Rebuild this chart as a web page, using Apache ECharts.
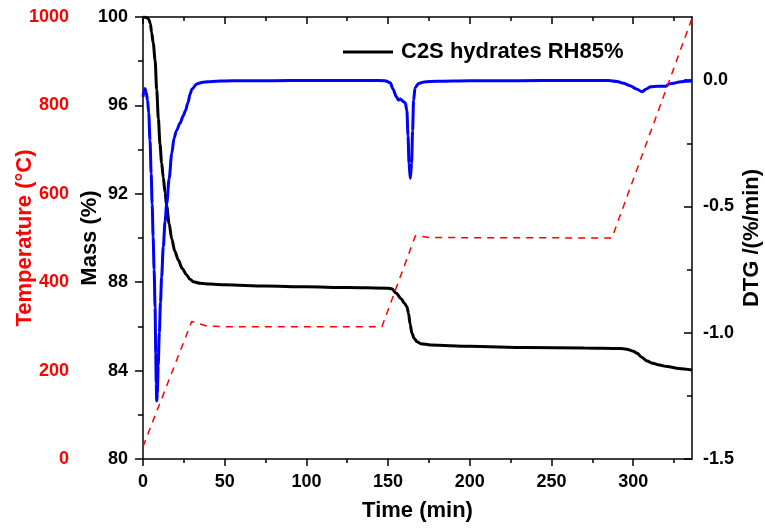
<!DOCTYPE html>
<html>
<head>
<meta charset="utf-8">
<script src="https://cdn.jsdelivr.net/npm/echarts@6/dist/echarts.min.js"></script>
<style>html,body{margin:0;padding:0;background:#fff;}#c{width:765px;height:528px;}</style>
</head>
<body>
<div id="c"></div>
<script>
// ---- tick values ----
const timeTicks = [0, 50, 100, 150, 200, 250, 300];
const timeMinorTicks = [25, 75, 125, 175, 225, 275, 325];
const massTicks = [80, 84, 88, 92, 96, 100];
const massMinorTicks = [82, 86, 90, 94, 98];
const tempTicks = [0, 200, 400, 600, 800, 1000];
const dtgTicks = [-1.5, -1.0, -0.5, 0.0];
const dtgMinorTicks = [-1.25, -0.75, -0.25];

// ---- series data ----
const massTime = [0, 2, 3.5, 4.5, 5.3, 6.3, 7.4, 8.4, 9.4, 10.4, 11.4, 12.4, 13.5, 14.5, 16, 17.6, 19.5, 21.6, 24, 26.7, 28.5, 30.8, 35, 41, 50, 75, 100, 125, 150, 152.3, 155, 158, 160, 161.5, 162.5, 163.5, 164.6, 166, 167.7, 170, 176, 200, 235, 270, 292, 296, 300, 302.5, 305, 308.6, 312, 316, 320.8, 328, 336];
const massValues = [100, 99.98, 99.9, 99.7, 99.3, 98.8, 98.05, 96.7, 95.4, 94.25, 93.4, 92.75, 92.05, 91.45, 90.65, 89.95, 89.4, 89.0, 88.62, 88.33, 88.15, 88.02, 87.95, 87.92, 87.88, 87.83, 87.79, 87.76, 87.73, 87.7, 87.5, 87.25, 87.05, 86.89, 86.6, 86.1, 85.69, 85.45, 85.31, 85.22, 85.16, 85.1, 85.04, 85.02, 85.0, 84.97, 84.88, 84.78, 84.62, 84.43, 84.33, 84.25, 84.18, 84.1, 84.03];

const dtgTime = [0, 0.6, 1.2, 2, 2.8, 3.5, 4.3, 5, 5.6, 6.2, 6.8, 7.4, 7.8, 8.1, 8.4, 8.8, 9.3, 10, 10.7, 11.4, 12.4, 13.5, 14.5, 16, 17.6, 19, 20.5, 22.7, 24.7, 26, 27.5, 28.8, 30, 32.9, 36, 40, 45, 50, 60, 80, 100, 120, 140, 148, 151.3, 153, 155, 156.4, 157.5, 158.5, 159.5, 160.5, 161.5, 162.2, 162.8, 163.6, 164.4, 165, 165.6, 166.5, 168.7, 172, 180, 200, 230, 260, 285, 290.2, 294, 298, 302, 305.5, 308, 310.7, 315, 319.9, 322, 325, 329, 332, 336];
const dtgValues = [-0.066, -0.045, -0.033, -0.05, -0.08, -0.13, -0.24, -0.37, -0.49, -0.62, -0.75, -0.9, -1.08, -1.2, -1.27, -1.24, -1.13, -1.0, -0.88, -0.78, -0.66, -0.56, -0.49, -0.39, -0.29, -0.23, -0.2, -0.17, -0.14, -0.12, -0.09, -0.055, -0.035, -0.015, -0.009, -0.006, -0.004, -0.003, -0.002, -0.002, -0.001, -0.001, -0.001, -0.002, -0.01, -0.035, -0.065, -0.079, -0.075, -0.08, -0.086, -0.09, -0.12, -0.22, -0.33, -0.388, -0.33, -0.2, -0.08, -0.03, -0.013, -0.007, -0.004, -0.002, -0.002, -0.001, -0.001, -0.005, -0.012, -0.022, -0.035, -0.046, -0.035, -0.026, -0.024, -0.024, -0.015, -0.012, -0.006, -0.004, -0.003];

const tempTime = [0, 29.8, 39, 50, 146.2, 166.7, 176, 287, 336];
const tempValues = [28, 311, 301, 299, 299, 505, 501, 500, 997];

const legendName = 'C2S hydrates RH85%';

// ---- build ----
const zip = (xs, ys) => xs.map((x, i) => [x, ys[i]]);
const FONT = '"Liberation Sans", Arial, Helvetica, sans-serif';
const xMin = 0, xMax = 336;
const lineBlack = { show: true, onZero: false, lineStyle: { color: '#000', width: 1.5 } };
const noLine = { show: false, onZero: false };
const tickStyle = { color: '#000', width: 1.5 };

function minorX(pos, inside, len, vals, showLine) {
  return {
    type: 'value', position: pos, min: xMin, max: xMax,
    axisLine: showLine ? lineBlack : noLine,
    axisTick: { show: true, inside: inside, length: len, customValues: vals, lineStyle: tickStyle },
    axisLabel: { show: false }, splitLine: { show: false }
  };
}

const chart = echarts.init(document.getElementById('c'), null, { renderer: 'canvas' });
const option = {
  animation: false,
  backgroundColor: '#ffffff',
  textStyle: { fontFamily: FONT },
  grid: { left: 143, right: 73, top: 17, bottom: 69, containLabel: false, outerBoundsMode: 'none' },
  legend: {
    data: [{ name: legendName, icon: 'rect' }],
    left: 343, top: 41, padding: 0,
    itemWidth: 50, itemHeight: 3,
    textStyle: { fontSize: 22, fontWeight: 'bold', color: '#000', fontFamily: FONT, padding: [0, 0, 0, 3] }
  },
  xAxis: [
    {
      type: 'value', position: 'bottom', min: xMin, max: xMax, interval: 50,
      axisLine: lineBlack,
      axisTick: { show: true, inside: false, length: 7, customValues: timeTicks, lineStyle: tickStyle },
      axisLabel: { customValues: timeTicks, fontSize: 18, fontWeight: 'bold', color: '#000', margin: 14, fontFamily: FONT },
      splitLine: { show: false },
      name: 'Time (min)', nameLocation: 'middle', nameGap: 41, nameMoveOverlap: false,
      nameTextStyle: { fontSize: 22, fontWeight: 'bold', color: '#000', fontFamily: FONT }
    },
    minorX('bottom', false, 4, timeMinorTicks, false),
    minorX('top', true, 7, timeTicks, true),
    minorX('top', true, 4, timeMinorTicks, false)
  ],
  yAxis: [
    {
      type: 'value', position: 'left', min: 80, max: 100, interval: 4,
      axisLine: lineBlack,
      axisTick: { show: true, inside: false, length: 8, customValues: massTicks, lineStyle: tickStyle },
      axisLabel: { customValues: massTicks, fontSize: 18, fontWeight: 'bold', color: '#000', margin: 15, fontFamily: FONT },
      splitLine: { show: false },
      name: 'Mass (%)', nameLocation: 'middle', nameGap: 42, nameRotate: 90, nameMoveOverlap: false,
      nameTextStyle: { fontSize: 22, fontWeight: 'bold', color: '#000', fontFamily: FONT }
    },
    {
      type: 'value', position: 'left', min: 80, max: 100,
      axisLine: noLine,
      axisTick: { show: true, inside: false, length: 5, customValues: massMinorTicks, lineStyle: tickStyle },
      axisLabel: { show: false }, splitLine: { show: false }
    },
    {
      type: 'value', position: 'right', min: -1.5, max: 0.25, interval: 0.5,
      axisLine: lineBlack,
      axisTick: { show: true, inside: true, length: 8, customValues: dtgTicks, lineStyle: tickStyle },
      axisLabel: { customValues: dtgTicks, formatter: v => Number(v).toFixed(1), fontSize: 18, fontWeight: 'bold', color: '#000', margin: 11, fontFamily: FONT },
      splitLine: { show: false },
      name: 'DTG /(%/min)', nameLocation: 'middle', nameGap: 49, nameRotate: 90, nameMoveOverlap: false,
      nameTextStyle: { fontSize: 22, fontWeight: 'bold', color: '#000', fontFamily: FONT }
    },
    {
      type: 'value', position: 'right', min: -1.5, max: 0.25,
      axisLine: noLine,
      axisTick: { show: true, inside: true, length: 5, customValues: dtgMinorTicks, lineStyle: tickStyle },
      axisLabel: { show: false }, splitLine: { show: false }
    },
    {
      type: 'value', position: 'left', offset: 60, min: 0, max: 1000, interval: 200,
      axisLine: noLine,
      axisTick: { show: false },
      axisLabel: { customValues: tempTicks, formatter: v => String(v), fontSize: 18, fontWeight: 'bold', color: '#ff0000', margin: 14, fontFamily: FONT },
      splitLine: { show: false },
      name: 'Temperature (\u00B0C)', nameLocation: 'middle', nameGap: 47, nameRotate: 90, nameMoveOverlap: false,
      nameTextStyle: { fontSize: 22, fontWeight: 'bold', color: '#ff0000', fontFamily: FONT }
    }
  ],
  series: [
    {
      name: legendName, type: 'line', xAxisIndex: 0, yAxisIndex: 0,
      data: zip(massTime, massValues), symbol: 'none', smooth: 0.3, smoothMonotone: 'x',
      lineStyle: { color: '#000', width: 3 }, itemStyle: { color: '#000' }
    },
    {
      name: 'DTG', type: 'line', xAxisIndex: 0, yAxisIndex: 2,
      data: zip(dtgTime, dtgValues), symbol: 'none', smooth: 0.3, smoothMonotone: 'x',
      lineStyle: { color: '#0000ff', width: 3 }, itemStyle: { color: '#0000ff' }
    },
    {
      name: 'Temperature', type: 'line', xAxisIndex: 0, yAxisIndex: 4,
      data: zip(tempTime, tempValues), symbol: 'none',
      lineStyle: { color: '#ff0000', width: 1.5, type: [7, 6] }, itemStyle: { color: '#ff0000' }
    }
  ]
};
chart.setOption(option);
</script>
</body>
</html>
